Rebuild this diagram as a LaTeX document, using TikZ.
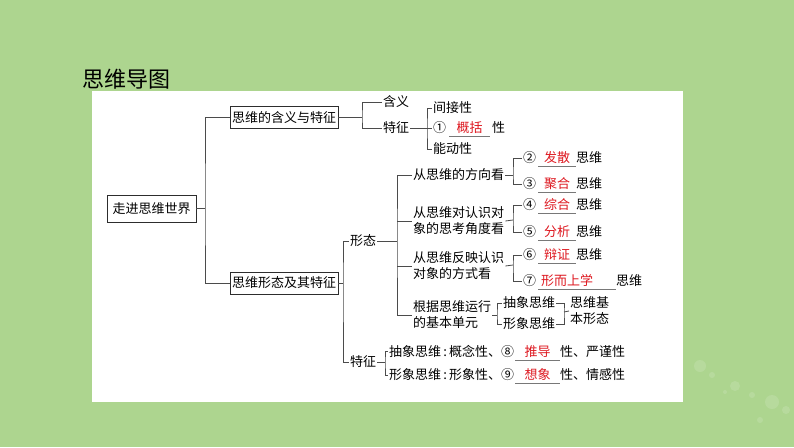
\documentclass[tikz,border=0pt]{standalone}
\usepackage{fontspec}
\setmainfont{Noto Sans CJK SC}
\definecolor{bggreen}{RGB}{173,213,143}
\definecolor{lnc}{RGB}{75,75,75}
\definecolor{boxc}{RGB}{45,45,45}
\definecolor{ansred}{RGB}{222,24,32}
\definecolor{ulgray}{RGB}{120,120,120}
\newcommand\ans[2]{\makebox[#1][c]{\textcolor{ansred}{#2}}\llap{\smash{\textcolor{ulgray}{\rule[-4.2pt]{#1}{0.7pt}}}}}
\tikzset{
  txt/.style={inner xsep=1pt, inner ysep=1pt, anchor=west, align=left, font=\fontsize{13}{16}\selectfont},
  box/.style={draw=boxc, line width=0.8pt, inner sep=1pt, font=\fontsize{13}{16}\selectfont},
  ln/.style={draw=lnc, line width=0.8pt},
}
\begin{document}
\begin{tikzpicture}[x=1pt,y=-1pt]
\useasboundingbox (0,0) rectangle (794,447);
\fill[bggreen] (0,0) rectangle (794,447);
% faint droplets
\foreach \px/\py/\r in {700/366/6, 712/375/3, 735/386/5, 752/395/3, 772/402/7, 786/410/4, 725/392/2, 760/420/3}
  \fill[white, opacity=0.13] (\px,\py) circle (\r);
\fill[white] (92,91) rectangle (683,402);
\node[font=\fontsize{22}{24}\selectfont, inner sep=0] (title) at (126,79) {思维导图};

% level 0/1
\node[box, minimum width=89pt, minimum height=27pt] (root) at (151.5,208.5) {走进思维世界};
\node[box, minimum width=108pt, minimum height=22pt] (b1) at (284,117.5) {思维的含义与特征};
\node[box, minimum width=108pt, minimum height=22pt] (b2) at (284,283) {思维形态及其特征};
\coordinate (j0) at (205,208.5);
\draw[ln] (root.east) -- (j0);
\draw[ln] (b1.west) -| (j0) |- (b2.west);

% branch 1
\coordinate (j1) at (362,117.5);
\node[txt] (hy) at (382,102) {含义};
\node[txt] (tz1) at (382,128) {特征};
\draw[ln] (b1.east) -- (j1);
\draw[ln] (hy.west) -| (j1) |- (tz1.west);

\coordinate (j2) at (427,128);
\node[txt] (jj) at (432,108) {间接性};
\node[txt] (k1) at (432,128) {①\hspace{3pt}\ans{41pt}{概括}\hspace{2pt}性};
\node[txt] (nd) at (432,149) {能动性};
\draw[ln] (tz1.east) -- (j2);
\draw[ln] (jj.west) -| (j2) |- (nd.west);
\draw[ln] (j2) -- (k1.west);

% branch 2
\coordinate (j3) at (343,283);
\node[txt] (xt) at (349,241) {形态};
\node[txt] (tz2) at (349,362) {特征};
\draw[ln] (b2.east) -- (j3);
\draw[ln] (xt.west) -| (j3) |- (tz2.west);

\coordinate (j4) at (397,241);
\node[txt] (d1) at (412,175) {从思维的方向看};
\node[txt] (d2) at (412,221) {从思维对认识对\\象的思考角度看};
\node[txt] (d3) at (412,266) {从思维反映认识\\对象的方式看};
\node[txt] (d4) at (412,315) {根据思维运行\\的基本单元};
\draw[ln] (xt.east) -- (j4);
\draw[ln] (d1.west) -| (j4) |- (d4.west);
\draw[ln] (j4 |- d2.west) -- (d2.west);
\draw[ln] (j4 |- d3.west) -- (d3.west);

% direction
\coordinate (j5) at (513,175);
\node[txt] (e2) at (522,158) {②\hspace{2pt}\ans{38pt}{发散}思维};
\node[txt] (e3) at (522,184) {③\hspace{2pt}\ans{38pt}{聚合}思维};
\draw[ln] (d1.east) -- (j5);
\draw[ln] (e2.west) -| (j5) |- (e3.west);

\coordinate (j6) at (513,220);
\node[txt] (e4) at (522,205) {④\hspace{2pt}\ans{38pt}{综合}思维};
\node[txt] (e5) at (522,232) {⑤\hspace{2pt}\ans{38pt}{分析}思维};
\draw[ln] (d2.east) -- (j6);
\draw[ln] (e4.west) -| (j6) |- (e5.west);

\coordinate (j7) at (513,265);
\node[txt] (e6) at (522,255) {⑥\hspace{2pt}\ans{38pt}{辩证}思维};
\node[txt] (e7) at (522,281) {⑦\hspace{2pt}\ans{78pt}{形而上学\hspace{20pt}}思维};
\draw[ln] (d3.east) -- (j7);
\draw[ln] (e6.west) -| (j7) |- (e7.west);

\coordinate (j8) at (497,315);
\node[txt] (zh1) at (502,303) {抽象思维};
\node[txt] (zh2) at (502,324) {形象思维};
\draw[ln] (d4.east) -- (j8);
\draw[ln] (zh1.west) -| (j8) |- (zh2.west);
\coordinate (j9) at (564,312);
\node[txt] (jb) at (569,311) {思维基\\本形态};
\draw[ln] (zh1.east) -| (j9) |- (zh2.east);
\draw[ln] (j9) -- (jb.west);

% features
\coordinate (j10) at (385,362);
\node[txt] (f1) at (388,351) {抽象思维\makebox[8pt]{:}概念性、⑧\hspace{1pt}\ans{45pt}{推导}性、严谨性};
\node[txt] (f2) at (388,375) {形象思维\makebox[8pt]{:}形象性、⑨\hspace{1pt}\ans{45pt}{想象}性、情感性};
\draw[ln] (tz2.east) -- (j10);
\draw[ln] (f1.west) -| (j10) |- (f2.west);
\end{tikzpicture}
\end{document}
